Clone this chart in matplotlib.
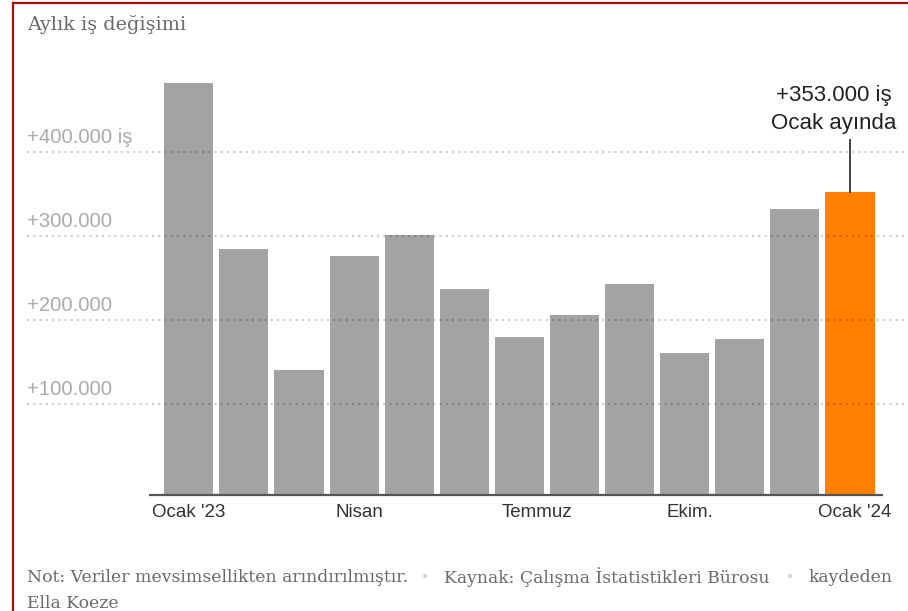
import matplotlib
matplotlib.use("Agg")
import matplotlib.pyplot as plt
from matplotlib.lines import Line2D
import numpy as np

# monthly job change, thousands (Jan 2023 .. Jan 2024)
months = ["Oca 23", "Şub", "Mar", "Nis", "May", "Haz", "Tem", "Ağu", "Eyl", "Eki", "Kas", "Ara", "Oca 24"]
jobs_k = [482, 285, 141, 276, 302, 237, 180, 206, 243, 161, 178, 333, 353]

tick_idx = [0, 3, 6, 9, 12]
tick_labels = ["Ocak '23", "Nisan", "Temmuz", "Ekim.", "Ocak '24"]

grid_vals = [100, 200, 300, 400]
grid_labels = ["+100.000", "+200.000", "+300.000", "+400.000 iş"]

title = "Aylık iş değişimi"
note_1 = "Not: Veriler mevsimsellikten arındırılmıştır."
note_2 = "Kaynak: Çalışma İstatistikleri Bürosu"
note_3 = "kaydeden"
note_4 = "Ella Koeze"
callout = "+353.000 iş\nOcak ayında"

W, H = 908, 611
fig = plt.figure(figsize=(W / 100, H / 100), dpi=100)

# layout in pixels
x0, pitch = 188.8, 55.1          # centre of first bar, bar spacing
y_zero, px_per_k = 488.3, 0.84
ax_left_px, ax_right_px = 27, 905
base = -7.5                       # bars start slightly below zero
ytop = 500

xlim = ((ax_left_px - x0) / pitch, (ax_right_px - x0) / pitch)
bot_px = y_zero - px_per_k * base
top_px = y_zero - px_per_k * ytop
ax = fig.add_axes([ax_left_px / W, 1 - bot_px / H,
                   (ax_right_px - ax_left_px) / W, (bot_px - top_px) / H])
ax.set_xlim(*xlim)
ax.set_ylim(base, ytop)
ax.axis("off")

x = np.arange(len(jobs_k))
vals = np.array(jobs_k, dtype=float)
colors = ["#a3a3a3"] * (len(vals) - 1) + ["#ff7f00"]
ax.bar(x, vals - base, bottom=base, width=0.89, color=colors, zorder=2)

# dotted gridlines drawn over the bars
for v, lab in zip(grid_vals, grid_labels):
    ax.axhline(v, color="black", alpha=0.2, lw=1.5, ls=(0, (1, 2)), zorder=3)
    ax.annotate(lab, xy=(0, v), xycoords=("axes fraction", "data"),
                xytext=(0, 6.5), textcoords="offset points",
                ha="left", va="baseline", fontsize=14.6, color="#ababab",
                family="Liberation Sans")

# baseline
ax.hlines(base, -0.72, 12.6, color="#555555", lw=1.6, zorder=4, clip_on=False)

# x labels
for i, lab in zip(tick_idx, tick_labels):
    if i == tick_idx[0]:
        xp, ha = i, "center"
    elif i == tick_idx[-1]:
        xp, ha = i + 0.09, "center"
    else:
        xp, ha = i - 0.33, "left"
    ax.annotate(lab, xy=(xp, base), xycoords="data", xytext=(0, -13),
                textcoords="offset points", ha=ha, va="center",
                fontsize=13.5, color="#333333", family="Liberation Sans",
                annotation_clip=False)

# callout for the last month
last = len(vals) - 1
ax.plot([last, last], [vals[last], vals[last] + 62], color="#333333", lw=1.3, zorder=4)
ax.text(last - 0.29, vals[last] + 98, callout, ha="center", va="center",
        fontsize=16, color="#222222", family="Liberation Sans", linespacing=1.4)

# title and footer
grey = "#6a6a6a"
fig.text(27 / W, 1 - 25 / H, title, ha="left", va="center", fontsize=13.8,
         color=grey, family="DejaVu Serif")
foot_y = 1 - 577 / H
fs = 12.4
fig.text(27 / W, foot_y, note_1, ha="left", va="center", fontsize=fs, color=grey, family="DejaVu Serif")
fig.text(425 / W, foot_y, "•", ha="center", va="center", fontsize=10, color="#d0d0d0")
fig.text(444 / W, foot_y, note_2, ha="left", va="center", fontsize=fs, color=grey, family="DejaVu Serif")
fig.text(790 / W, foot_y, "•", ha="center", va="center", fontsize=10, color="#d0d0d0")
fig.text(808 / W, foot_y, note_3, ha="left", va="center", fontsize=fs, color=grey, family="DejaVu Serif")
fig.text(27 / W, 1 - 603 / H, note_4, ha="left", va="center", fontsize=fs, color=grey, family="DejaVu Serif")

# dark red frame (top and left)
fig.add_artist(Line2D([12.5 / W, 1], [1 - 3 / H, 1 - 3 / H], color="#a80f0f", lw=1.6))
fig.add_artist(Line2D([12.5 / W, 12.5 / W], [0, 1 - 3 / H], color="#a80f0f", lw=1.6))

fig.savefig("out.png", dpi=100)
